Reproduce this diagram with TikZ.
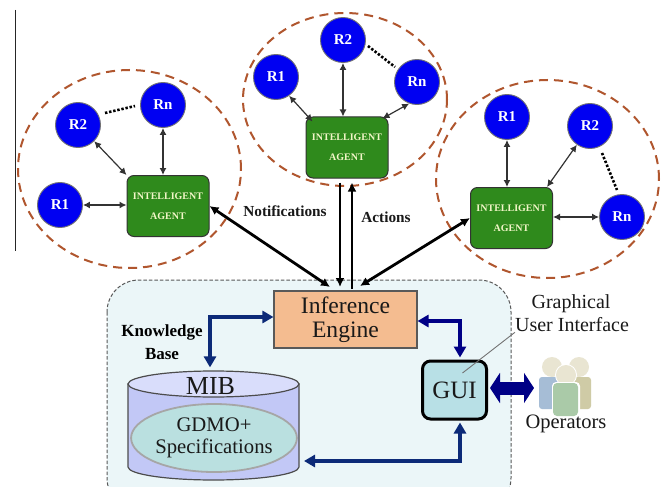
\documentclass[tikz,border=0pt]{standalone}
\usepackage{fontspec}
\setmainfont{Liberation Serif}
\usetikzlibrary{arrows.meta,shapes.geometric,calc}
\definecolor{clusterc}{HTML}{B0562E}
\definecolor{robotc}{HTML}{0000F2}
\definecolor{agentc}{HTML}{2F8A1C}
\definecolor{agenttxt}{HTML}{F2F6C8}
\definecolor{regionc}{HTML}{EBF6F8}
\definecolor{enginec}{HTML}{F4BC90}
\definecolor{cylbody}{HTML}{C2C8F6}
\definecolor{cyltop}{HTML}{D9DDFB}
\definecolor{specc}{HTML}{BAE0E0}
\definecolor{guic}{HTML}{B8E0E6}
\definecolor{navyA}{HTML}{0C2A78}
\definecolor{navyB}{HTML}{000086}
\definecolor{headc}{HTML}{E9E5D2}
\definecolor{persL}{HTML}{A6BDD6}
\definecolor{persR}{HTML}{CFCBA6}
\definecolor{persM}{HTML}{AACAA8}
\newcommand{\fs}[1]{\fontsize{#1}{#1}\selectfont}
\tikzset{
  px/.style={x=1pt,y=-1pt},
  cluster/.style={draw=clusterc,ellipse,line width=2pt,dash pattern=on 9pt off 6pt,inner sep=0pt},
  robot/.style={circle,draw=black!55,line width=0.9pt,fill=robotc,text=white,minimum size=45pt,inner sep=0pt,font=\bfseries\fs{15}},
  agent/.style={draw=black!80,line width=1pt,fill=agentc,rounded corners=7pt,text=agenttxt,minimum width=82pt,minimum height=61pt,inner sep=0pt,align=center,font=\bfseries\fontsize{10}{20}\selectfont},
  link/.style={black!80,line width=1.2pt,{Latex[length=7pt,width=7pt]}-{Latex[length=7pt,width=7pt]}},
  dots/.style={black,line width=2.6pt,dash pattern=on 2.4pt off 1.8pt},
  bus/.style={black,line width=2.8pt},
  busonly/.style={bus,-{Latex[length=9pt,width=9pt]}},
  busboth/.style={bus,{Latex[length=9pt,width=9pt]}-{Latex[length=9pt,width=9pt]}},
  blueflow/.style={navyA,line width=3.2pt},
  flowtips/.style={{Triangle[length=11pt,width=12pt]}-{Triangle[length=11pt,width=12pt]}},
  label/.style={text=black!90,inner sep=0pt,align=center},
  boldlabel/.style={label,font=\bfseries\fs{15.3}},
}
\begin{document}
\begin{tikzpicture}[px]
\useasboundingbox (0,0) rectangle (662,487);
\clip (0,0) rectangle (662,487);
\fill[white] (0,0) rectangle (662,487);

% margin rule
\draw[black!85,line width=1pt] (15.5,10) -- (15.5,251);

% lower region
\draw[black!65,fill=regionc,line width=1pt,dash pattern=on 3.5pt off 2pt,rounded corners=32pt] (107,280) rectangle (511,510);

% clusters
\node[cluster,minimum width=223pt,minimum height=198pt] (c1) at (129.5,169) {};
\node[cluster,minimum width=204pt,minimum height=173pt] (c2) at (345,99.5) {};
\node[cluster,minimum width=223pt,minimum height=198pt] (c3) at (547.5,179) {};

% left cluster
\node[robot] (aR2) at (78,125) {R2};
\node[robot] (aRn) at (163,105) {Rn};
\node[robot] (aR1) at (60,205) {R1};
\node[agent] (A1) at (168,206) {INTELLIGENT\\AGENT};
\draw[dots] ($(aR2)+(27,-12)$) -- ($(aRn)+(-28,1)$);
\draw[link] (aR2.-45) -- (A1.north west);
\draw[link] (aRn.south) -- (aRn.south |- A1.north);
\draw[link] (aR1.east) -- (aR1.east -| A1.west);

% middle cluster
\node[robot] (bR1) at (276,77) {R1};
\node[robot] (bR2) at (343,40) {R2};
\node[robot] (bRn) at (417,82) {Rn};
\node[agent] (A2) at (347,147.5) {INTELLIGENT\\AGENT};
\draw[dots] ($(bR2)+(25,6)$) -- ($(bRn)+(-22,-15)$);
\draw[link] (bR1.-55) -- ($(A2.north west)+(7,5)$);
\draw[link] (bR2.south) -- (bR2.south |- A2.north);
\draw[link] (bRn.-110) -- ($(A2.north east)+(-6,2)$);

% right cluster
\node[robot] (cR1) at (507,117) {R1};
\node[robot] (cR2) at (590,126) {R2};
\node[robot] (cRn) at (622,217) {Rn};
\node[agent] (A3) at (511.5,218) {INTELLIGENT\\AGENT};
\draw[dots] ($(cR2)+(12,27)$) -- ($(cRn)+(-5,-27)$);
\draw[link] (cR1.south) -- (cR1.south |- A3.north);
\draw[link] (cR2.-125) -- ($(A3.north east)+(-6,0)$);
\draw[link] (cRn.west) -- (cRn.west -| A3.east);

% inference engine
\node[draw=black!65,fill=enginec,line width=1.1pt,minimum width=143pt,minimum height=57pt,inner sep=0pt,align=center,text=black!90,font=\fontsize{23.6}{24}\selectfont] (IE) at (345.5,319.5) {Inference\\Engine};

% bus arrows
\coordinate (IEa) at (330,287);
\coordinate (IEb) at (340,287);
\coordinate (IEc) at (352,289);
\coordinate (IEd) at (360,286);
\draw[busboth] (A1.east) -- (IEa);
\draw[busonly] (IEb |- A2.south) ++(0,4) -- (IEb);
\draw[busonly] (IEc) -- ($(IEc |- A2.south)+(0,4)$);
\draw[busboth] (A3.west) -- (IEd);

% bus labels
\node[boldlabel] (notif) at (285,211) {Notifications};
\node[boldlabel] (act) at (386,217) {Actions};
\node[label,font=\bfseries\fs{17},text=black] (kb) at (162,342) {Knowledge\\[6pt]Base};

% MIB cylinder
\path[draw=black!70,fill=cylbody,line width=1.2pt]
  (128,384) -- (128,467) .. controls (128,474.2) and (166,480) .. (213.5,480)
  .. controls (261,480) and (299,474.2) .. (299,467) -- (299,384) -- cycle;
\node[ellipse,draw=black!70,fill=cyltop,line width=1.2pt,minimum width=171pt,minimum height=26pt,inner sep=0pt] (mibtop) at (213.5,384) {};
\node[label,font=\fs{26}] (mibtxt) at (210.5,386) {MIB};
\node[ellipse,draw=black!35,fill=specc,line width=1.8pt,minimum width=148pt,minimum height=68pt,inner sep=0pt,text=black!90,align=center,font=\fontsize{20.7}{22}\selectfont] (spec) at (214,438) {GDMO+\\Specifications};
\coordinate (mibright) at (304,461);

% GUI
\node[draw=black,fill=guic,line width=3pt,rounded corners=8pt,minimum width=64pt,minimum height=58pt,inner sep=0pt,text=black!90,font=\fs{25}] (GUI) at (454.5,390) {GUI};

% blue flows
\coordinate (kneeA) at (210,317);
\coordinate (kneeB) at (460,321);
\coordinate (kneeC) at (460,461);
\draw[blueflow,flowtips] (mibtop.north -| kneeA) ++(0,-3) -- (kneeA) -- (IE.west |- kneeA);
\draw[navyB,line width=3.2pt,flowtips] (IE.east |- kneeB) -- (kneeB) -- ($(GUI.north -| kneeB)+(0,-2)$);
\draw[blueflow,flowtips] (mibright) -- (kneeC) -- ($(GUI.south -| kneeC)+(0,2)$);

% operators
\fill[headc] (552,367) circle (10);
\fill[headc] (579,367) circle (10);
\fill[persL,rounded corners=3pt] (539,377) rectangle (558,409);
\fill[persR,rounded corners=3pt] (572,377) rectangle (591,409);
\fill[white] (566,375) circle (11);
\fill[headc] (566,375) circle (10);
\fill[white,rounded corners=4pt] (552,382) rectangle (580,417);
\fill[persM,rounded corners=4pt] (553,383) rectangle (578,416);
\node[label,font=\fs{20.5}] (ops) at (566,424) {Operators};
\coordinate (opsW) at (534,388);
\draw[navyB,line width=13pt,{Triangle[length=10pt,width=30pt]}-{Triangle[length=10pt,width=30pt]}] (GUI.east |- opsW) ++(2,0) -- (opsW);

% GUI label
\node[label,font=\fs{20}] (guilbl1) at (571,304) {Graphical};
\node[label,font=\fs{20}] (guilbl2) at (572,325) {User Interface};
\draw[black!55,line width=0.9pt] (GUI.center) ++(8,-17) -- (guilbl2.south west);
\end{tikzpicture}
\end{document}
